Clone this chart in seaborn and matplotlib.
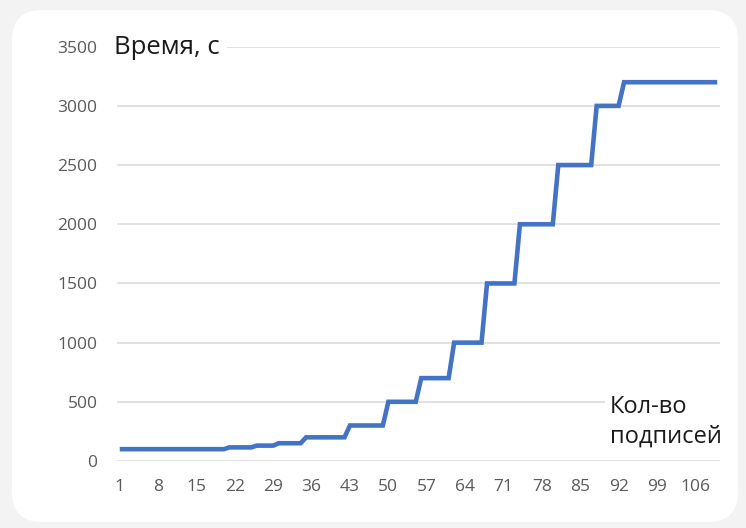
import matplotlib
matplotlib.use("Agg")
import matplotlib.pyplot as plt
from matplotlib.patches import FancyBboxPatch
import pandas as pd
import seaborn as sns

# Number of signatures (category axis) and processing time in seconds
signatures = list(range(1, 111))
time_sec = [
    100, 100, 100, 100, 100, 100, 100, 100, 100, 100,
    100, 100, 100, 100, 100, 100, 100, 100, 100, 100,
    115, 115, 115, 115, 115,
    130, 130, 130, 130,
    150, 150, 150, 150, 150,
    200, 200, 200, 200, 200, 200, 200, 200,
    300, 300, 300, 300, 300, 300, 300,
    500, 500, 500, 500, 500, 500,
    700, 700, 700, 700, 700, 700,
    1000, 1000, 1000, 1000, 1000, 1000,
    1500, 1500, 1500, 1500, 1500, 1500,
    2000, 2000, 2000, 2000, 2000, 2000, 2000,
    2500, 2500, 2500, 2500, 2500, 2500, 2500,
    3000, 3000, 3000, 3000, 3000,
    3200, 3200, 3200, 3200, 3200, 3200, 3200, 3200, 3200,
    3200, 3200, 3200, 3200, 3200, 3200, 3200, 3200, 3200,
]
x_tick_labels = [1, 8, 15, 22, 29, 36, 43, 50, 57, 64, 71, 78, 85, 92, 99, 106]
y_ticks = [0, 500, 1000, 1500, 2000, 2500, 3000, 3500]
y_title = "Время, с"
x_title = "Кол-во\nподписей"

df = pd.DataFrame({"signatures": signatures, "time": time_sec})

sns.set_theme(style="white")
plt.rcParams["font.family"] = ["Open Sans", "DejaVu Sans"]

W, H = 746, 528
fig = plt.figure(figsize=(W / 100, H / 100), dpi=100)
fig.patch.set_facecolor("#f3f3f3")

# white rounded card behind the chart
card = FancyBboxPatch((12 / W, 1 - 522 / H), (738 - 12) / W, (522 - 10) / H,
                      boxstyle="round,pad=0,rounding_size=0.04",
                      transform=fig.transFigure, facecolor="white",
                      edgecolor="none", zorder=-5,
                      mutation_aspect=W / H)
fig.patches.append(card)

ax = fig.add_axes([117 / W, 1 - 461 / H, (720 - 117) / W, (461 - 46.7) / H])
ax.set_zorder(2)
ax.set_facecolor("none")

sns.lineplot(data=df, x="signatures", y="time", ax=ax, color="#4472C4",
             linewidth=3.3, solid_joinstyle="miter", solid_capstyle="butt",
             zorder=3)

ax.set_xlim(0.5, len(signatures) + 0.5)
ax.set_ylim(0, 3500)
ax.set_xticks(x_tick_labels)
ax.set_xticklabels([str(v) for v in x_tick_labels])
ax.set_yticks(y_ticks)
ax.set_yticklabels([str(v) for v in y_ticks])
ax.tick_params(axis="y", length=0, pad=14, labelsize=12.5, labelcolor="#595959")
ax.tick_params(axis="x", length=0, pad=13, labelsize=12.5, labelcolor="#595959")
ax.yaxis.grid(True, color="#d9d9d9", linewidth=1.1)
ax.xaxis.grid(False)
for s in ax.spines.values():
    s.set_visible(False)
ax.set_xlabel("")
ax.set_ylabel("")

ax.text(114 / W, 1 - 48 / H, y_title, transform=fig.transFigure,
        ha="left", va="center", fontsize=18.5, color="#1a1a1a",
        bbox=dict(boxstyle="square,pad=0.3", facecolor="white", edgecolor="none"),
        zorder=5, clip_on=False)
ax.text(610 / W, 1 - 422 / H, x_title, transform=fig.transFigure,
        ha="left", va="center", fontsize=17, color="#1a1a1a", linespacing=1.3,
        bbox=dict(boxstyle="square,pad=0.2", facecolor="white", edgecolor="none"),
        zorder=5, clip_on=False)

fig.savefig("out.png", dpi=100, facecolor=fig.get_facecolor())
